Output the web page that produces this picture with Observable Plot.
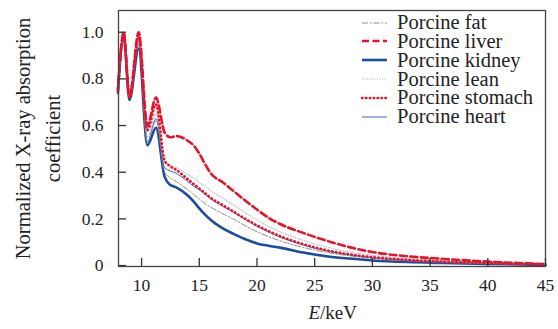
<!DOCTYPE html>
<html><head><meta charset="utf-8">
<script src="https://cdn.jsdelivr.net/npm/d3@7"></script>
<script src="https://cdn.jsdelivr.net/npm/@observablehq/plot@0.6"></script>
</head><body style="margin:0;background:#fff;font-family:'Liberation Serif'"><div id="wrap" style="position:relative;width:558px;height:329px;font-family:'Liberation Serif'"></div><script>
const energy = [7.95, 8.45, 8.95, 9.75, 10.5, 11.25, 12, 12.5, 13, 14, 14.5, 15, 15.5, 16, 17, 18, 19, 20, 21, 22, 24, 26, 28, 30, 33, 36, 40, 45];
const fat     = [0.75, 0.98, 0.72, 0.95, 0.53, 0.62, 0.40, 0.375, 0.36, 0.325, 0.305, 0.285, 0.265, 0.25, 0.223, 0.198, 0.17, 0.145, 0.124, 0.106, 0.078, 0.057, 0.042, 0.031, 0.02, 0.014, 0.009, 0.004];
const liver   = [0.74, 1.00, 0.72, 1.00, 0.60, 0.72, 0.57, 0.55, 0.555, 0.535, 0.515, 0.48, 0.435, 0.395, 0.358, 0.318, 0.278, 0.24, 0.205, 0.178, 0.14, 0.107, 0.079, 0.058, 0.04, 0.029, 0.017, 0.006];
const kidney  = [0.75, 0.98, 0.71, 0.93, 0.515, 0.59, 0.38, 0.345, 0.335, 0.30, 0.275, 0.245, 0.218, 0.195, 0.16, 0.135, 0.113, 0.095, 0.085, 0.077, 0.056, 0.04, 0.03, 0.022, 0.015, 0.011, 0.007, 0.003];
const lean    = [0.76, 0.98, 0.73, 0.96, 0.55, 0.65, 0.44, 0.43, 0.42, 0.39, 0.375, 0.355, 0.34, 0.32, 0.29, 0.258, 0.226, 0.195, 0.168, 0.145, 0.108, 0.08, 0.058, 0.044, 0.03, 0.021, 0.013, 0.005];
const stomach = [0.76, 0.99, 0.73, 0.98, 0.58, 0.69, 0.45, 0.425, 0.41, 0.37, 0.35, 0.33, 0.31, 0.29, 0.26, 0.23, 0.2, 0.172, 0.148, 0.126, 0.092, 0.066, 0.048, 0.036, 0.024, 0.017, 0.011, 0.005];
const heart   = [0.75, 0.98, 0.72, 0.95, 0.53, 0.63, 0.42, 0.405, 0.395, 0.36, 0.34, 0.325, 0.305, 0.285, 0.255, 0.227, 0.197, 0.168, 0.144, 0.122, 0.088, 0.063, 0.046, 0.034, 0.023, 0.016, 0.01, 0.004];
const seriesNames = ["Porcine fat", "Porcine liver", "Porcine kidney", "Porcine lean", "Porcine stomach", "Porcine heart"];
const xTicks = [10, 15, 20, 25, 30, 35, 40, 45];
const yTicks = [0, 0.2, 0.4, 0.6, 0.8, 1.0];
const yTickLabels = ["0", "0.2", "0.4", "0.6", "0.8", "1.0"];
const yLabel = "Normalized X-ray absorption\ncoefficient";

const values = [fat, liver, kidney, lean, stomach, heart];
const styles = [
  {stroke: "#8c8c8c", strokeWidth: 1, strokeDasharray: "6,2,1.5,2"},
  {stroke: "#e8132b", strokeWidth: 2.6, strokeDasharray: "7,3.5"},
  {stroke: "#1b4c9e", strokeWidth: 2.6},
  {stroke: "#b0b0b0", strokeWidth: 1, strokeDasharray: "1,1.5"},
  {stroke: "#e8132b", strokeWidth: 2.6, strokeDasharray: "0.5,3.4", strokeLinecap: "round"},
  {stroke: "#3d62b5", strokeWidth: 1}
];
const tables = values.map(arr => energy.map((e, i) => ({E: e, v: arr[i]})));
const drawOrder = [2, 5, 0, 3, 4, 1];
const FF = "Liberation Serif";

const chart = Plot.plot({
  width: 558, height: 329,
  marginLeft: 118, marginRight: 13, marginTop: 10, marginBottom: 63,
  x: {domain: [8, 45]},
  y: {domain: [-0.004, 1.093]},
  style: "font-family: 'Liberation Serif'; font-size: 17.5px; color: #222; background: white;",
  marks: [
    ...drawOrder.map(i => Plot.line(tables[i], {x: "E", y: "v", curve: "monotone-x", ...styles[i]})),
    Plot.frame({stroke: "#444", strokeWidth: 1.3}),
    Plot.axisX({ticks: xTicks, tickSize: -8, tickPadding: 20, label: null, stroke: "#333", strokeWidth: 1.3, fontFamily: FF, fontSize: 17.5}),
    Plot.axisY({ticks: yTicks, tickSize: -8, tickPadding: 23, label: null, stroke: "#333", strokeWidth: 1.3, fontFamily: FF, fontSize: 17.5,
      tickFormat: d => yTickLabels[yTicks.indexOf(d)]}),
    Plot.text([yLabel], {text: d => d, frameAnchor: "left", textAnchor: "middle", dx: -83, rotate: -90, fontFamily: FF, fontSize: 20.5, lineHeight: 1.45, fill: "#222"}),
    Plot.text(["E"], {text: d => d, frameAnchor: "bottom", dx: -12, dy: 52, textAnchor: "end", fontFamily: FF, fontSize: 19, fontStyle: "italic", fill: "#222"}),
    Plot.text(["/keV"], {text: d => d, frameAnchor: "bottom", dx: -12, dy: 52, textAnchor: "start", fontFamily: FF, fontSize: 19, fill: "#222"})
  ]
});
const wrap = document.getElementById("wrap");
wrap.appendChild(chart);

const legend = document.createElement("div");
legend.setAttribute("style", "position:absolute;left:360px;top:13.3px;font-size:20.5px;color:#222;font-family:'Liberation Serif'");
seriesNames.forEach((name, i) => {
  const s = styles[i];
  const row = document.createElement("div");
  row.setAttribute("style", "display:flex;align-items:center;height:18.8px;line-height:18.8px;white-space:nowrap;font-family:'Liberation Serif'");
  row.innerHTML = `<svg width="28" height="10" style="margin-right:9px;flex:none"><line x1="2" x2="27" y1="5" y2="5" stroke="${s.stroke}" stroke-width="${s.strokeWidth}" ${s.strokeDasharray ? `stroke-dasharray="${s.strokeDasharray}"` : ""} ${s.strokeLinecap ? `stroke-linecap="${s.strokeLinecap}"` : ""}/></svg><span style="font-family:'Liberation Serif'">${name}</span>`;
  legend.appendChild(row);
});
wrap.appendChild(legend);
</script></body></html>
